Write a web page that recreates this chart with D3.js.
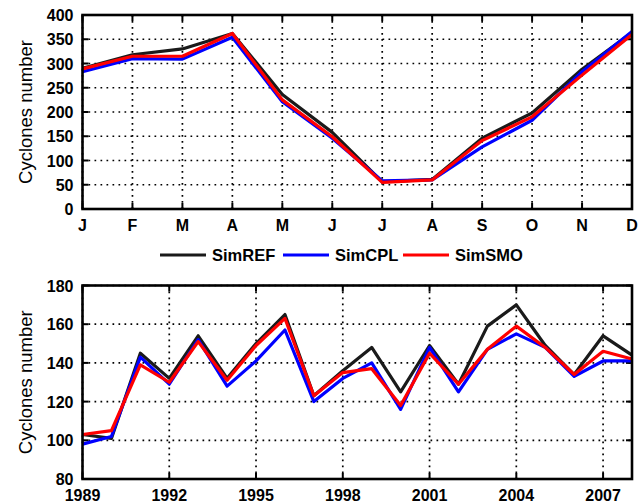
<!DOCTYPE html>
<html>
<head>
<meta charset="utf-8">
<script src="https://cdn.jsdelivr.net/npm/d3@7"></script>
<style>
  body { margin: 0; background: #fff; }
  text { font-family: "Liberation Sans", Arial, sans-serif; }
</style>
</head>
<body>
<div id="chart"></div>
<script>
var months = ["J", "F", "M", "A", "M", "J", "J", "A", "S", "O", "N", "D"];
var refMonthly = [290, 318, 330, 362, 236, 158, 56, 61, 146, 198, 288, 364];
var cplMonthly = [283, 310, 309, 354, 221, 146, 58, 60, 128, 183, 283, 366];
var smoMonthly = [289, 315, 315, 362, 225, 149, 55, 60, 141, 190, 276, 360];

var years = d3.range(1989, 2009);
var refYearly = [103, 101, 145, 132, 154, 132, 150, 165, 123, 136, 148, 125, 149, 129, 159, 170, 149, 134, 154, 144];
var cplYearly = [98, 102, 143, 129, 152, 128, 141, 157, 120, 132, 140, 116, 148, 125, 147, 155, 148, 133, 141, 141];
var smoYearly = [103, 105, 139, 130, 151, 131, 149, 163, 123, 135, 137, 118, 145, 129, 147, 159, 148, 134, 146, 142];
var yearTicks = [1989, 1992, 1995, 1998, 2001, 2004, 2007];

var seriesNames = ["SimREF", "SimCPL", "SimSMO"];
var colors = ["#1a1a1a", "#0000ff", "#ff0000"];

var width = 642, height = 503;
var svg = d3.select("#chart").append("svg")
    .attr("width", width)
    .attr("height", height);

var left = 82.5, right = 632;
var tickFont = 16;

function panel(top, bottom, xScale, yScale, xTicks, xFormat, yTicks, series, xs) {
    var g = svg.append("g");
    // grid
    g.selectAll(".vg").data(xTicks).enter().append("line")
        .attr("x1", function (d) { return xScale(d) })
        .attr("x2", function (d) { return xScale(d) })
        .attr("y1", top).attr("y2", bottom)
        .attr("stroke", "#000").attr("stroke-width", 1.7)
        .attr("stroke-dasharray", "1.7,4.3");
    g.selectAll(".hg").data(yTicks).enter().append("line")
        .attr("x1", left).attr("x2", right)
        .attr("y1", function (d) { return yScale(d) })
        .attr("y2", function (d) { return yScale(d) })
        .attr("stroke", "#000").attr("stroke-width", 1.7)
        .attr("stroke-dasharray", "1.7,4.3");
    // inward tick marks
    g.selectAll(".xt").data(xTicks).enter().append("line")
        .attr("x1", function (d) { return xScale(d) })
        .attr("x2", function (d) { return xScale(d) })
        .attr("y1", bottom).attr("y2", bottom - 6)
        .attr("stroke", "#000").attr("stroke-width", 2);
    g.selectAll(".xt2").data(xTicks).enter().append("line")
        .attr("x1", function (d) { return xScale(d) })
        .attr("x2", function (d) { return xScale(d) })
        .attr("y1", top).attr("y2", top + 6)
        .attr("stroke", "#000").attr("stroke-width", 2);
    g.selectAll(".yt").data(yTicks).enter().append("line")
        .attr("x1", left).attr("x2", left + 6)
        .attr("y1", function (d) { return yScale(d) })
        .attr("y2", function (d) { return yScale(d) })
        .attr("stroke", "#000").attr("stroke-width", 2);
    g.selectAll(".yt2").data(yTicks).enter().append("line")
        .attr("x1", right).attr("x2", right - 6)
        .attr("y1", function (d) { return yScale(d) })
        .attr("y2", function (d) { return yScale(d) })
        .attr("stroke", "#000").attr("stroke-width", 2);
    // lines
    series.forEach(function (vals, i) {
        var line = d3.line()
            .x(function (d, j) { return xScale(xs[j]) })
            .y(function (d) { return yScale(d) });
        g.append("path")
            .datum(vals)
            .attr("d", line)
            .attr("fill", "none")
            .attr("stroke", colors[i])
            .attr("stroke-width", 3.2)
            .attr("stroke-linejoin", "round");
    });
    // frame
    g.append("rect")
        .attr("x", left).attr("y", top)
        .attr("width", right - left).attr("height", bottom - top)
        .attr("fill", "none").attr("stroke", "#000").attr("stroke-width", 2.6);
    // labels
    g.selectAll(".yl").data(yTicks).enter().append("text")
        .attr("x", left - 9)
        .attr("y", function (d) { return yScale(d) + 6 })
        .attr("text-anchor", "end")
        .attr("font-size", tickFont).attr("font-weight", "bold")
        .text(function (d) { return d });
    g.selectAll(".xl").data(xTicks).enter().append("text")
        .attr("x", function (d) { return xScale(d) })
        .attr("y", bottom + 22)
        .attr("text-anchor", "middle")
        .attr("font-size", tickFont).attr("font-weight", "bold")
        .text(xFormat);
    g.append("text")
        .attr("transform", "translate(32," + ((top + bottom) / 2) + ") rotate(-90)")
        .attr("text-anchor", "middle")
        .attr("font-size", 18.5)
        .text("Cyclones number");
}

// top panel: monthly
var monthIdx = d3.range(12);
var x1 = d3.scaleLinear().domain([0, 11]).range([left, right]);
var y1 = d3.scaleLinear().domain([0, 400]).range([209, 15]);
panel(15, 209, x1, y1, monthIdx, function (d) { return months[d] }, d3.range(0, 401, 50),
    [refMonthly, cplMonthly, smoMonthly], monthIdx);

// bottom panel: yearly
var x2 = d3.scaleLinear().domain([1989, 2008]).range([left, right]);
var y2 = d3.scaleLinear().domain([80, 180]).range([479, 285.5]);
panel(285.5, 479, x2, y2, yearTicks, function (d) { return d }, d3.range(80, 181, 20),
    [refYearly, cplYearly, smoYearly], years);

// legend
var legendX = [160, 283, 403];
var lg = svg.append("g");
seriesNames.forEach(function (name, i) {
    lg.append("line")
        .attr("x1", legendX[i]).attr("x2", legendX[i] + 46)
        .attr("y1", 255).attr("y2", 255)
        .attr("stroke", colors[i]).attr("stroke-width", 3.2);
    lg.append("text")
        .attr("x", legendX[i] + 52).attr("y", 261)
        .attr("font-size", 16.5).attr("font-weight", "bold")
        .text(name);
});
</script>
</body>
</html>
